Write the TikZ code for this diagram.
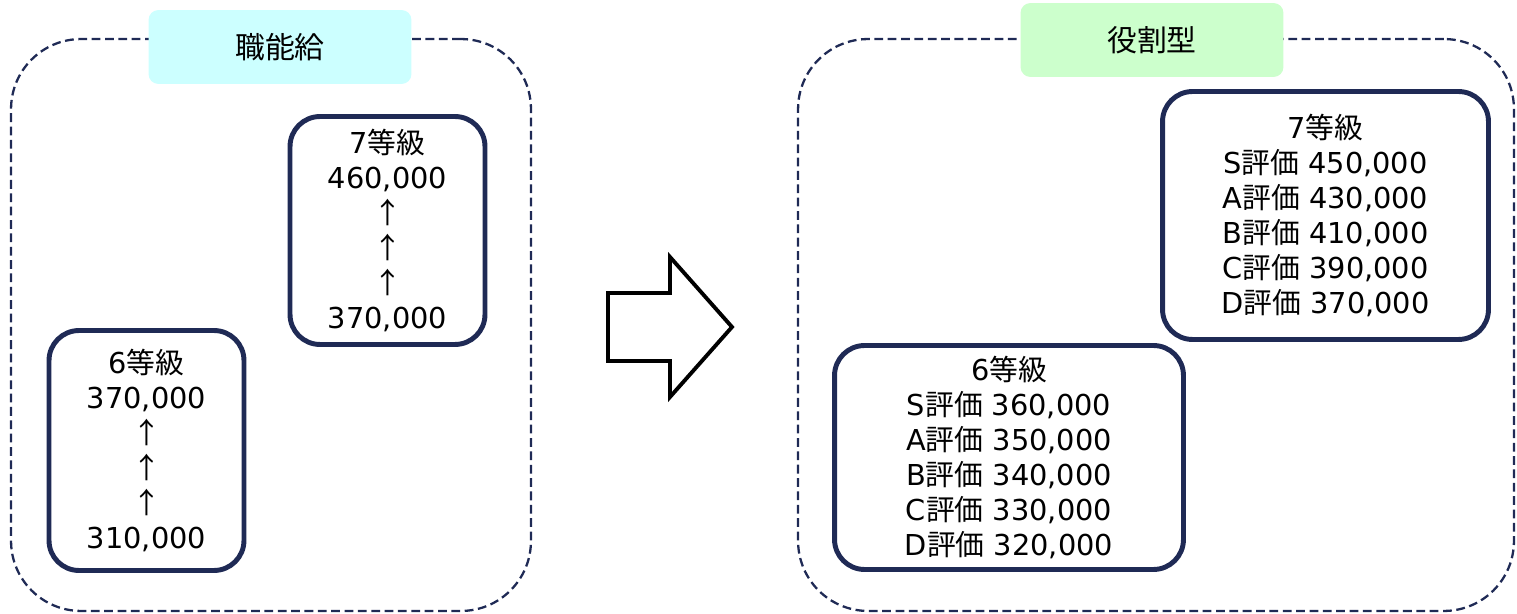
\documentclass[tikz,border=0pt]{standalone}
\usepackage{fontspec}
\setmainfont{DejaVu Sans}
\newfontfamily\jpfont{Noto Sans CJK JP}
\newcommand{\jtext}[1]{{\jpfont #1}}
\usetikzlibrary{positioning}
\definecolor{gradeblue}{HTML}{1F2A55}
\definecolor{titlecyan}{HTML}{CCFFFF}
\definecolor{titlegreen}{HTML}{CCFFCC}

\begin{document}
\begin{tikzpicture}[
    x=0.02cm, y=-0.02cm,
    panel/.style={rectangle, draw=gradeblue, dash pattern=on 5pt off 2.6pt, line width=1.3pt, rounded corners=1.4cm, inner sep=0pt},
    paneltitle/.style={rectangle, rounded corners=0.2cm, minimum width=5.26cm, minimum height=1.48cm, inner sep=0pt, font=\jpfont\fontsize{17}{20}\selectfont},
    grade/.style={rectangle, draw=gradeblue, line width=2.8pt, rounded corners=0.6cm, fill=white, align=center, inner sep=0pt, font=\fontsize{16.4}{20}\selectfont},
    bigarrow/.style={draw, line width=2.2pt, fill=white}
]
    \useasboundingbox (0,0) rectangle (1517,614);

    % left panel
    \node[panel, minimum width=10.4cm, minimum height=11.44cm] (shokunou) at (271,325) {};
    \node[paneltitle, fill=titlecyan] (shokunoutitle) at (280,47) {職能給};
    \node[grade, minimum width=3.9cm, minimum height=4.56cm] (left7) at (387.5,230.5)
        {7\jtext{等級}\\460,000\\\jtext{↑}\\\jtext{↑}\\\jtext{↑}\\370,000};
    \node[grade, minimum width=3.9cm, minimum height=4.8cm] (left6) at (146.5,450.5)
        {6\jtext{等級}\\370,000\\\jtext{↑}\\\jtext{↑}\\\jtext{↑}\\310,000};

    % shift arrow
    \draw[bigarrow] (608,293) -- (670,293) -- (670,257) -- (732,327) -- (670,397) -- (670,361) -- (608,361) -- cycle;

    % right panel
    \node[panel, minimum width=14.32cm, minimum height=11.44cm] (yakuwari) at (1156,325) {};
    \node[paneltitle, fill=titlegreen] (yakuwarititle) at (1152,40) {役割型};
    \node[grade, minimum width=6.52cm, minimum height=4.96cm] (right7) at (1325.5,215.5)
        {7\jtext{等級}\\S\jtext{評価} 450,000\\A\jtext{評価} 430,000\\B\jtext{評価} 410,000\\C\jtext{評価} 390,000\\D\jtext{評価} 370,000};
    \node[grade, minimum width=6.98cm, minimum height=4.48cm] (right6) at (1009,457.5)
        {6\jtext{等級}\\S\jtext{評価} 360,000\\A\jtext{評価} 350,000\\B\jtext{評価} 340,000\\C\jtext{評価} 330,000\\D\jtext{評価} 320,000};
\end{tikzpicture}
\end{document}
